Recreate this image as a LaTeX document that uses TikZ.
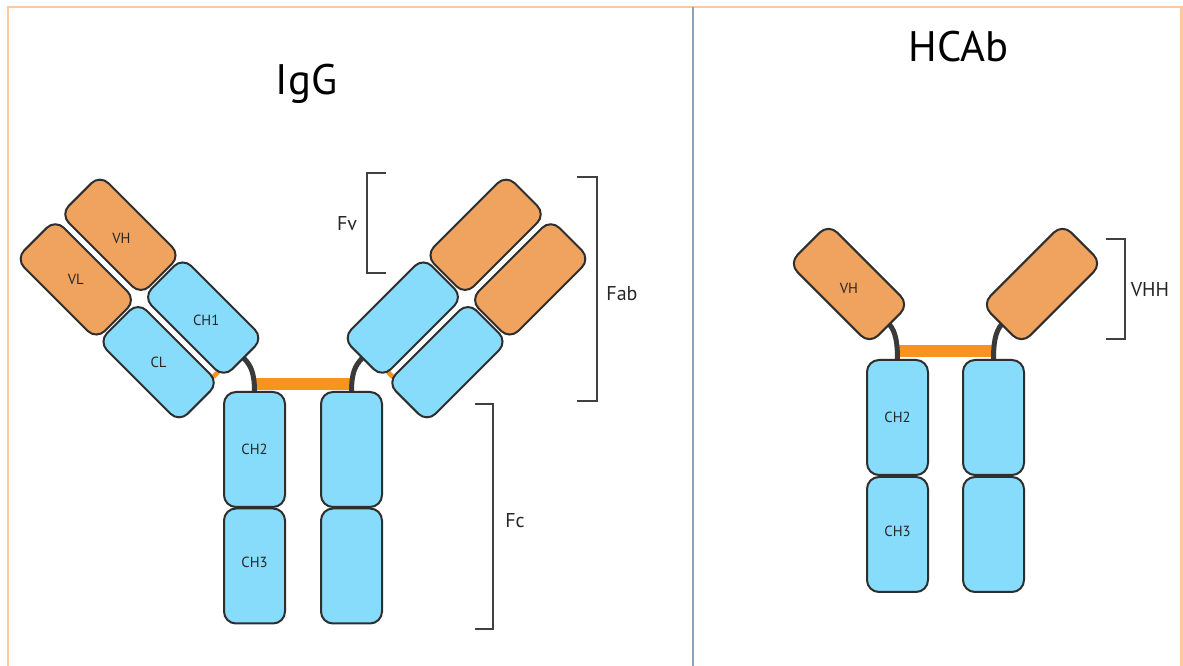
\documentclass[tikz,border=0pt]{standalone}
\usepackage{fontspec}
\setmainfont{PT Sans}
\usetikzlibrary{calc,backgrounds}
\definecolor{vdom}{HTML}{F0A35E}
\definecolor{cdom}{HTML}{87DBFB}
\definecolor{edgeline}{HTML}{2E2E2E}
\definecolor{hingeor}{HTML}{F7941D}
\definecolor{tethergray}{HTML}{3A3A3A}
\definecolor{framecol}{HTML}{FBC9A0}
\definecolor{dividercol}{HTML}{8BA3B5}
\begin{document}
\begin{tikzpicture}[x=0.75pt,y=-0.75pt,
  armdomain/.style={draw=edgeline, line width=1.5pt, rounded corners=9pt,
    inner sep=0pt, outer sep=0pt, minimum width=85.5pt, minimum height=42pt},
  vdomain/.style={armdomain, fill=vdom},
  cdomain/.style={armdomain, fill=cdom},
  fcdomain/.style={draw=edgeline, line width=1.5pt, rounded corners=9pt, fill=cdom,
    inner sep=0pt, outer sep=0pt, minimum width=45.75pt, minimum height=86.25pt},
  dlabel/.style={font=\fontsize{11}{13}\selectfont, text=black!85},
  blabel/.style={font=\fontsize{15}{18}\selectfont, text=black!85},
  titletext/.style={font=\fontsize{32}{38}\selectfont, anchor=base},
  bracketline/.style={draw=black!75, line width=1.2pt},
  tether/.style={draw=tethergray, line width=3.75pt},
  bridge/.style={draw=hingeor, line width=9pt},
  chainlink/.style={draw=hingeor, line width=3.5pt}]

\useasboundingbox (0,0) rectangle (1183,666);
\begin{pgfonlayer}{background}
  \fill[white] (0,0) rectangle (1183,666);
\end{pgfonlayer}

% outer frame and panel divider
\draw[framecol, line width=2pt] (8,666) -- (8,7) -- (1181.5,7) -- (1181.5,666);
\draw[dividercol, line width=1.5pt] (693,7) -- (693,666);

% titles
\node[titletext] (tigg) at (306.5,95) {IgG};
\node[titletext] (thcab) at (958.5,62) {HCAb};

% ---------------- IgG ----------------
% left arm
\node[vdomain, rotate=-45] (vh)  at (120.4,234.8) {};
\node[vdomain, rotate=-45] (vl)  at (75.8,279.4) {};
\node[cdomain, rotate=-45] (ch1) at (203.2,317.6) {};
\node[cdomain, rotate=-45] (cl)  at (158.6,362.2) {};
% right arm
\node[vdomain, rotate=45] (vhr)  at (485.6,234.8) {};
\node[vdomain, rotate=45] (vlr)  at (530.2,279.4) {};
\node[cdomain, rotate=45] (ch1r) at (402.8,317.6) {};
\node[cdomain, rotate=45] (clr)  at (447.4,362.2) {};
% Fc
\node[fcdomain] (ch2)  at (254.5,449.5) {};
\node[fcdomain] (ch3)  at (254.5,566) {};
\node[fcdomain] (ch2r) at (351.5,449.5) {};
\node[fcdomain] (ch3r) at (351.5,566) {};

\node[dlabel] (lvh)  at ($(vh)+(1,4)$)  {VH};
\node[dlabel] (lvl)  at (vl)  {VL};
\node[dlabel] (lch1) at ($(ch1)+(3,3)$) {CH1};
\node[dlabel] (lcl)  at (cl)  {CL};
\node[dlabel] (lch2) at (ch2) {CH2};
\node[dlabel] (lch3) at ($(ch3)+(0,-4)$) {CH3};

% hinge and interchain links
\begin{pgfonlayer}{background}
  \draw[bridge] ($(ch2.north)+(0,-8)$) -- ($(ch2r.north)+(0,-8)$);
  \draw[tether] (ch1.east) .. controls +(8,8) and +(0,-18) .. (ch2.north);
  \draw[tether] (ch1r.west) .. controls +(-8,8) and +(0,-18) .. (ch2r.north);
  \draw[chainlink] ($(ch1.south)!0.86!(ch1.south east)$) -- ($(cl.north)!0.86!(cl.north east)$);
  \draw[chainlink] ($(ch1r.south)!0.86!(ch1r.south west)$) -- ($(clr.north)!0.86!(clr.north west)$);
\end{pgfonlayer}

% brackets
\draw[bracketline] (386,173) -- (367,173) -- (367,273) -- (386,273);
\node[blabel] (lfv) at (347,224) {Fv};
\draw[bracketline] (577,177) -- (597,177) -- (597,401) -- (577,401);
\node[blabel] (lfab) at (622,294) {Fab};
\draw[bracketline] (475,404) -- (493,404) -- (493,629) -- (475,629);
\node[blabel] (lfc) at (515,521) {Fc};

% ---------------- HCAb ----------------
\node[vdomain, rotate=-45] (hvh)  at (849,284) {};
\node[vdomain, rotate=45]  (hvhr) at (1042,284) {};
\node[fcdomain] (hch2)  at (897.5,417.5) {};
\node[fcdomain] (hch3)  at (897.5,534.5) {};
\node[fcdomain] (hch2r) at (993.5,417.5) {};
\node[fcdomain] (hch3r) at (993.5,534.5) {};

\node[dlabel] (lhvh)  at ($(hvh)+(0,4)$)  {VH};
\node[dlabel] (lhch2) at (hch2) {CH2};
\node[dlabel] (lhch3) at ($(hch3)+(0,-3)$) {CH3};

\begin{pgfonlayer}{background}
  \draw[bridge] ($(hch2.north)+(0,-9)$) -- ($(hch2r.north)+(0,-9)$);
  \draw[tether] (hvh.east) .. controls +(7,8) and +(0,-15) .. (hch2.north);
  \draw[tether] (hvhr.west) .. controls +(-7,8) and +(0,-15) .. (hch2r.north);
\end{pgfonlayer}

\draw[bracketline] (1106,239) -- (1125,239) -- (1125,339) -- (1106,339);
\node[blabel] (lvhh) at (1150,290) {VHH};

\end{tikzpicture}
\end{document}
